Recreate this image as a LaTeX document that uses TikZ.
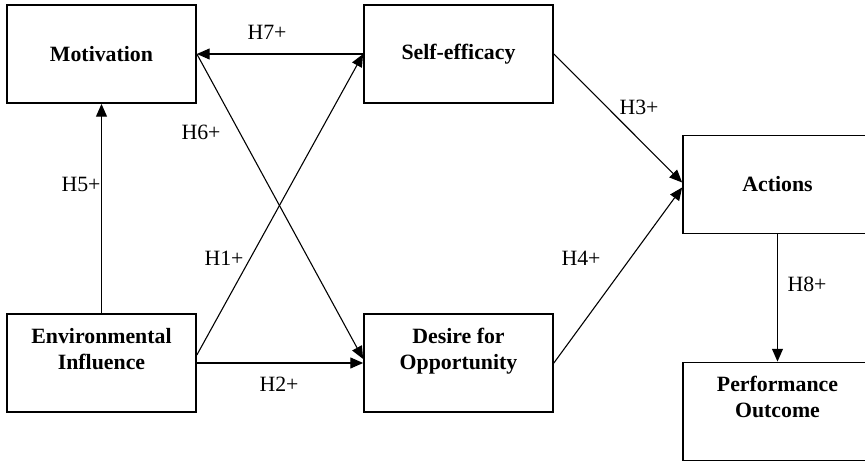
\documentclass[tikz,border=0pt]{standalone}
\usepackage{fontspec}
\setmainfont{Liberation Serif}
\usepackage{tikz}
\usetikzlibrary{calc}
\usetikzlibrary{arrows.meta}
\usetikzlibrary{positioning}

\tikzset{
    construct/.style={draw, line width=0.9pt, minimum width=104pt, minimum height=54pt,
                      inner sep=0pt, font=\fontsize{12}{14.3}\selectfont\bfseries, align=center},
    twoline/.style={text depth=16pt},
    link/.style={-{Triangle[length=7pt, width=6pt]}, line width=0.6pt},
    hyp/.style={anchor=base, inner sep=0pt, font=\fontsize{12}{14.3}\selectfont}
}

\begin{document}
\begin{tikzpicture}[x=0.55pt, y=-0.55pt]
            % Frame to fix the margins
            \useasboundingbox (0,0) rectangle (865,461);
            \clip (0,0) rectangle (865,461);
            % Constructs
            \node[construct]          (mot)  at (101.5, 54.0) {Motivation};
            \node[construct]          (self) at (458.5, 54.0) {Self-efficacy};
            \node[construct]          (act)  at (777.5,184.5) {Actions};
            \node[construct, twoline] (env)  at (101.5,363.0) {Environmental\\Influence};
            \node[construct, twoline] (des)  at (458.5,363.0) {Desire for\\Opportunity};
            \node[construct, twoline] (perf) at (777.5,411.5) {Performance\\Outcome};
            % Hypotheses
            \draw[link] (self.west)                  -- (mot.east);
            \draw[link] (mot.east)                   -- ($(des.west)+(0,-4)$);
            \draw[link] ($(env.east)+(0,-8)$)        -- (self.west);
            \draw[link] (env.east)                   -- (des.west);
            \draw[link] (env.north)                  -- (mot.south);
            \draw[link] (self.east)                  -- ($(act.west)+(0,-2)$);
            \draw[link] (des.east)                   -- ($(act.west)+(0,3)$);
            \draw[link] (act.south)                  -- (perf.north);
            % Labels
            \node[hyp] (h7) at (267, 40) {H7+};
            \node[hyp] (h6) at (201,140) {H6+};
            \node[hyp] (h5) at ( 81,192) {H5+};
            \node[hyp] (h1) at (224,266) {H1+};
            \node[hyp] (h2) at (279,392) {H2+};
            \node[hyp] (h3) at (639,115) {H3+};
            \node[hyp] (h4) at (581,266) {H4+};
            \node[hyp] (h8) at (807,292) {H8+};
\end{tikzpicture}
\end{document}
